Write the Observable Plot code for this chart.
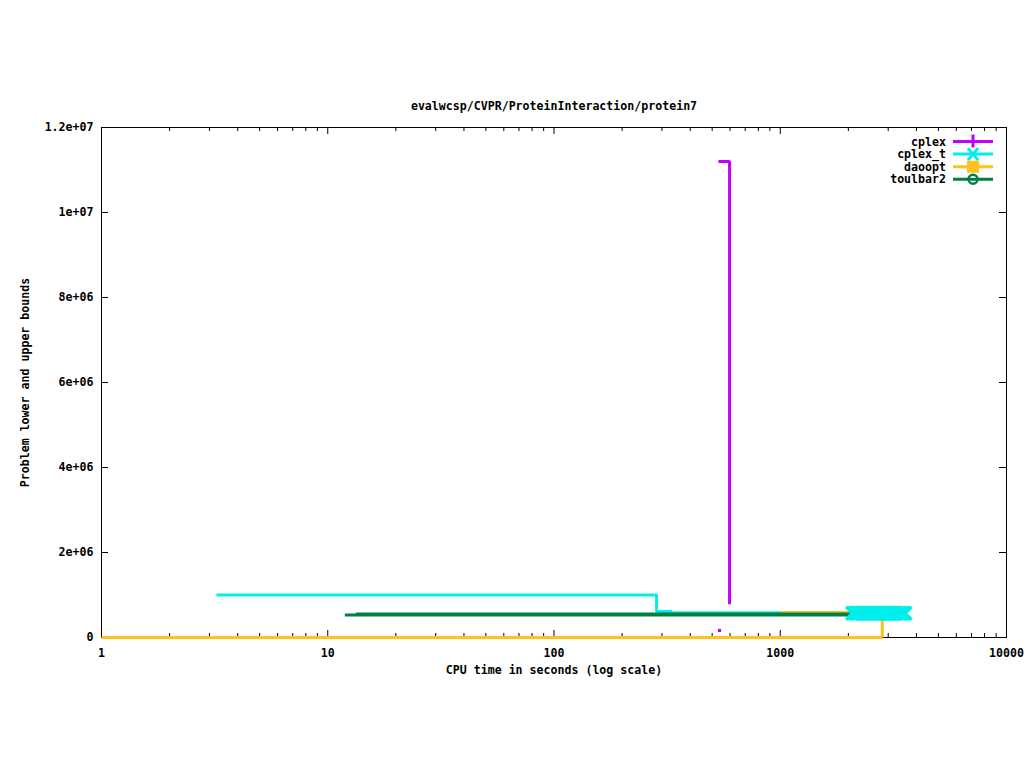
<!DOCTYPE html>
<html><head><meta charset="utf-8">
<script src="https://cdn.jsdelivr.net/npm/d3@7"></script>
<script src="https://cdn.jsdelivr.net/npm/@observablehq/plot@0.6"></script>
<style>
body{margin:0;background:#fff;overflow:hidden}
#wrap{position:relative;width:1024px;height:768px}
#wrap svg{position:absolute;left:0;top:0}
</style></head><body><div id="wrap"></div>
<script>
// ---- text ----
const titleText = "evalwcsp/CVPR/ProteinInteraction/protein7";
const xLabelText = "CPU time in seconds (log scale)";
const yLabelText = "Problem lower and upper bounds";

// ---- ticks ----
const xMajor = [1, 10, 100, 1000, 10000];
const xMajorLabels = ["1", "10", "100", "1000", "10000"];
const yTicks = [0, 2e6, 4e6, 6e6, 8e6, 1e7, 1.2e7];
const yTickLabels = ["0", "2e+06", "4e+06", "6e+06", "8e+06", "1e+07", "1.2e+07"];

// ---- series ----
const seriesNames = ["cplex", "cplex_t", "daoopt", "toulbar2"];
const seriesColors = ["#c000ff", "#00eeee", "#ffc020", "#008040"];

const cplexUpperTime = [533, 597];
const cplexUpperValue = [11.2e6, 0.78e6];
const cplexLowerTime = [539];
const cplexLowerValue = [0.165e6];

const cplexTUpperTime = [3.22, 284, 330, 3560];
const cplexTUpperValue = [1.0e6, 0.612e6, 0.585e6, 0.585e6];
const cplexTMarkTime = [2090, 2130, 2170, 2210, 2250, 2300, 2340, 2390, 2430, 2480, 2520, 2570, 2620, 2670, 2720, 2770, 2830, 2880, 2940, 3000, 3050, 3110, 3170, 3230, 3290, 3360, 3420, 3490, 3560];
const cplexTMarkValue = cplexTMarkTime.map(() => 0.57e6);

const daooptUpperTime = [1000, 2825];
const daooptUpperValue = [0.59e6, 0];
const daooptLowerTime = [1, 2825];
const daooptLowerValue = [0, 0];

const toulbarUpperTime = [13.3, 2040];
const toulbarUpperValue = [0.553e6, 0.553e6];
const toulbarLowerTime = [11.9, 2040];
const toulbarLowerValue = [0.53e6, 0.53e6];

// ---- layout ----
const W = 1024, H = 768, mL = 101, mR = 18, mT = 127, mB = 131;
const frameW = W - mL - mR, frameH = H - mT - mB;
const font = "'DejaVu Sans Mono', monospace";

const rows = (ts, vs) => ts.map((t, i) => ({t, v: vs[i]}));
const xLab = new Map(xMajor.map((d, i) => [d, xMajorLabels[i]]));
const yLab = new Map(yTicks.map((d, i) => [d, yTickLabels[i]]));
const minorTicks = d3.scaleLog().domain([1, 1e4]).ticks().filter(t => !xMajor.includes(t));

const lineOpts = (color, w = 3) => ({x: "t", y: "v", curve: "step-after", stroke: color, strokeWidth: w, strokeLinecap: "butt", strokeLinejoin: "miter"});

const chart = Plot.plot({
  width: W, height: H,
  marginLeft: mL, marginRight: mR, marginTop: mT, marginBottom: mB,
  style: {fontFamily: font, fontSize: "11.6px", fontWeight: "bold", background: "#fff", color: "#000"},
  x: {type: "log", domain: [1, 1e4]},
  y: {domain: [0, 1.2e7]},
  marks: [
    Plot.frame({stroke: "#000", strokeWidth: 1}),
    Plot.tickX(xMajor, {x: d => d, insetTop: frameH - 7, stroke: "#000"}),
    Plot.tickX(xMajor, {x: d => d, insetBottom: frameH - 7, stroke: "#000"}),
    Plot.tickX(minorTicks, {x: d => d, insetTop: frameH - 4, stroke: "#000"}),
    Plot.tickX(minorTicks, {x: d => d, insetBottom: frameH - 4, stroke: "#000"}),
    Plot.tickY(yTicks, {y: d => d, insetRight: frameW - 7, stroke: "#000"}),
    Plot.tickY(yTicks, {y: d => d, insetLeft: frameW - 7, stroke: "#000"}),
    Plot.axisX({ticks: xMajor, tickFormat: d => xLab.get(d), tickSize: 0, tickPadding: 11, label: null}),
    Plot.axisY({ticks: yTicks, tickFormat: d => yLab.get(d), tickSize: 0, tickPadding: 8, label: null}),
    Plot.text([titleText], {frameAnchor: "top", dy: -21, lineAnchor: "middle", textAnchor: "middle", text: d => d}),
    Plot.text([xLabelText], {frameAnchor: "bottom", dy: 33, lineAnchor: "middle", textAnchor: "middle", text: d => d}),
    Plot.text([yLabelText], {frameAnchor: "left", dx: -76, rotate: -90, lineAnchor: "middle", textAnchor: "middle", text: d => d}),
    // cplex
    Plot.line(rows(cplexUpperTime, cplexUpperValue), lineOpts(seriesColors[0])),
    Plot.dot(rows(cplexLowerTime, cplexLowerValue), {x: "t", y: "v", symbol: "square", r: 1.8, fill: seriesColors[0]}),
    // cplex_t
    Plot.line(rows(cplexTUpperTime, cplexTUpperValue), lineOpts(seriesColors[1])),
    // daoopt
    Plot.line(rows(daooptLowerTime, daooptLowerValue), lineOpts(seriesColors[2])),
    Plot.line(rows(daooptUpperTime, daooptUpperValue), lineOpts(seriesColors[2])),
    // toulbar2
    Plot.line(rows(toulbarLowerTime, toulbarLowerValue), lineOpts(seriesColors[3])),
    Plot.line(rows(toulbarUpperTime, toulbarUpperValue), lineOpts(seriesColors[3])),
    // cplex_t point markers
    Plot.dot(rows(cplexTMarkTime, cplexTMarkValue), {x: "t", y: "v", symbol: "times", r: 6, stroke: seriesColors[1], strokeWidth: 3.5})
  ]
});
document.getElementById("wrap").appendChild(chart);

// ---- legend (inside top-right of frame) ----
const right = W - mR;
const leg = d3.create("svg").attr("width", W).attr("height", H).style("pointer-events", "none");
seriesNames.forEach((name, i) => {
  const y = mT + 14.5 + 12.6 * i;
  const c = seriesColors[i];
  const g = leg.append("g").attr("font-family", font).attr("font-size", "11.6px").attr("font-weight", "bold");
  g.append("text").attr("x", right - 60).attr("y", y).attr("dy", "0.35em").attr("text-anchor", "end").attr("fill", "#000").text(name);
  g.append("line").attr("x1", right - 53).attr("x2", right - 13).attr("y1", y).attr("y2", y).attr("stroke", c).attr("stroke-width", 3);
  const mx = right - 33;
  if (i === 0) {
    g.append("line").attr("x1", mx).attr("x2", mx).attr("y1", y - 7).attr("y2", y + 6).attr("stroke", c).attr("stroke-width", 3);
  } else if (i === 1) {
    g.append("path").attr("d", `M${mx-5},${y-6}L${mx+5},${y+6}M${mx+5},${y-6}L${mx-5},${y+6}`).attr("stroke", c).attr("stroke-width", 3).attr("fill", "none");
  } else if (i === 2) {
    g.append("rect").attr("x", mx - 6).attr("y", y - 6).attr("width", 12).attr("height", 12).attr("fill", c);
  } else {
    g.append("circle").attr("cx", mx).attr("cy", y).attr("r", 4.5).attr("stroke", c).attr("stroke-width", 2.5).attr("fill", "none");
  }
});
document.getElementById("wrap").appendChild(leg.node());
</script></body></html>
